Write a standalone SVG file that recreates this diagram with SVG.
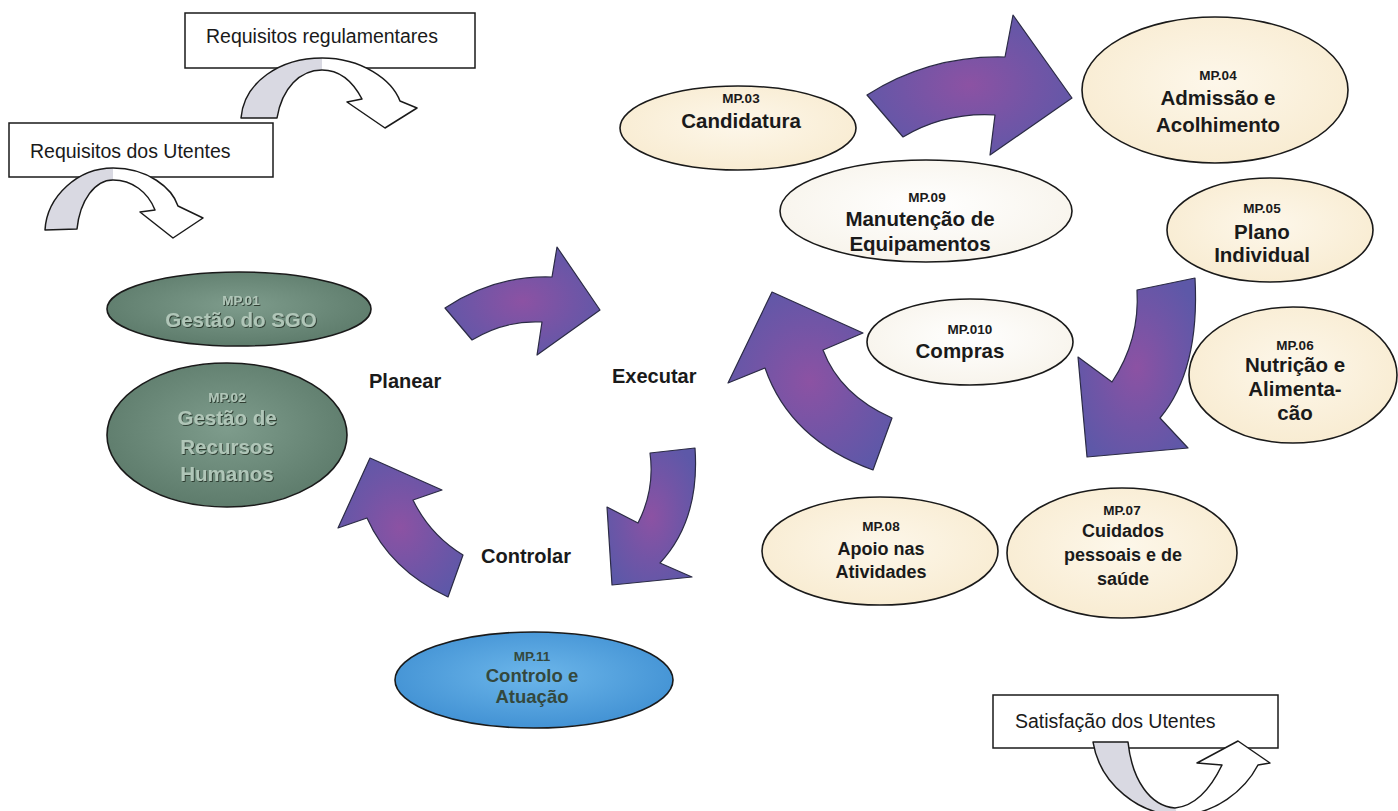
<svg xmlns="http://www.w3.org/2000/svg" width="1398" height="811" viewBox="0 0 1398 811">
<defs>
<radialGradient id="pg" cx="50%" cy="50%" r="60%"><stop offset="0" stop-color="#8c52a3"/><stop offset="0.55" stop-color="#7155a6"/><stop offset="1" stop-color="#5d58a8"/></radialGradient>
<radialGradient id="gg" cx="50%" cy="45%" r="60%"><stop offset="0" stop-color="#7e9c8c"/><stop offset="1" stop-color="#5b7969"/></radialGradient>
<radialGradient id="bg" cx="50%" cy="45%" r="60%"><stop offset="0" stop-color="#6cb6ea"/><stop offset="1" stop-color="#3f8fd2"/></radialGradient>
<radialGradient id="cg" cx="50%" cy="45%" r="60%"><stop offset="0" stop-color="#fdf7ea"/><stop offset="1" stop-color="#f8ebd0"/></radialGradient>
<radialGradient id="wg" cx="50%" cy="45%" r="60%"><stop offset="0" stop-color="#ffffff"/><stop offset="1" stop-color="#f7f3ea"/></radialGradient>
<filter id="emb" x="-10%" y="-10%" width="120%" height="130%"><feDropShadow dx="0.9" dy="0.9" stdDeviation="0.3" flood-color="#263429"/></filter>
</defs>
<style>
text{font-family:"Liberation Sans",Arial,sans-serif;}
.box{fill:#fff;stroke:#1a1a1a;stroke-width:1.5;}
.bt{font-size:19.5px;fill:#1a1a1a;}
.ca{fill:#fff;stroke:none;}
.cg{fill:#d9d9e2;stroke:none;}
.co{fill:none;stroke:#1a1a1a;stroke-width:1.5;stroke-linejoin:round;}
.pa{fill:url(#pg);stroke:#2b2b45;stroke-width:1.2;stroke-linejoin:round;}
.el{stroke:#1a1a1a;stroke-width:1.6;}
.cream{fill:url(#cg);}
.white{fill:url(#wg);}
.green{fill:url(#gg);}
.blue{fill:url(#bg);}
.mp{font-size:13.5px;font-weight:bold;fill:#1a1a1a;text-anchor:middle;}
.nt{font-size:20.5px;font-weight:bold;fill:#1a1a1a;text-anchor:middle;}
.ns{font-size:18px;font-weight:bold;fill:#1a1a1a;text-anchor:middle;}
.gt{fill:#b0c6b8;filter:url(#emb);}
.btx{fill:#34483d;}
.bl{font-size:18.5px;}
.lab{font-size:20px;font-weight:bold;fill:#1a1a1a;}
</style>
<rect width="1398" height="811" fill="#fff"/>

<g id="req-regulamentares">
<rect class="box" x="185" y="13" width="290" height="55"/>
<text class="bt" x="206" y="43">Requisitos regulamentares</text>
<path class="ca" d="M241,118 C244,82 280,58 322,58 C362,58 392,80 400,101 L417,108 L385,128 L347,102 L362,99 C352,80 338,70 322,70 C300,70 282,88 277,118 Z"/>
<path class="cg" d="M241,118 C244,82 280,58 322,58 L322,70 C300,70 282,88 277,118 Z"/>
<path class="co" d="M241,118 C244,82 280,58 322,58 C362,58 392,80 400,101 L417,108 L385,128 L347,102 L362,99 C352,80 338,70 322,70 C300,70 282,88 277,118 Z"/>
</g>

<g id="req-utentes">
<rect class="box" x="9" y="123" width="264" height="54"/>
<text class="bt" x="30" y="158">Requisitos dos Utentes</text>
<path class="ca" d="M45,230 C47,196 78,168 113,168 C148,168 172,188 178,206 L203,218 L173,238 L140,212 L155,210 C148,192 132,180 113,180 C95,180 80,200 77,229 Z"/>
<path class="cg" d="M45,230 C47,196 78,168 113,168 L113,180 C95,180 80,200 77,229 Z"/>
<path class="co" d="M45,230 C47,196 78,168 113,168 C148,168 172,188 178,206 L203,218 L173,238 L140,212 L155,210 C148,192 132,180 113,180 C95,180 80,200 77,229 Z"/>
</g>

<g id="satisfacao">
<rect class="box" x="993" y="695" width="285" height="53"/>
<text class="bt" x="1015" y="728">Satisfação dos Utentes</text>
<path class="ca" d="M1093,742 C1100,785 1140,815 1178,815 C1215,815 1245,790 1258,765 L1270,763 L1238,741 L1197,763 L1222,765 C1210,790 1195,806 1175,808 C1150,806 1132,780 1128,742 Z"/>
<path class="cg" d="M1093,742 C1100,785 1140,815 1178,815 L1175,808 C1150,806 1132,780 1128,742 Z"/>
<path class="co" d="M1093,742 C1100,785 1140,815 1178,815 C1215,815 1245,790 1258,765 L1270,763 L1238,741 L1197,763 L1222,765 C1210,790 1195,806 1175,808 C1150,806 1132,780 1128,742 Z"/>
</g>

<g id="connectors">
<path class="pa" d="M867,95 Q930,55 1005,57 L1013,15 L1072,98 L990,155 L995,115 Q945,112 903,137 Z"/>
<path class="pa" d="M445,308 Q495,275 552,277 L557,247 L600,310 L537,355 L542,322 Q505,320 472,340 Z"/>
<path class="pa" d="M772,292 L863,333 L823,350 Q840,395 892,418 L873,470 Q790,440 765,368 L728,383 Z"/>
<path class="pa" d="M1137,290 L1195,278 Q1200,370 1160,418 L1188,448 L1087,457 L1078,357 L1112,382 Q1140,340 1137,290 Z"/>
<path class="pa" d="M650,453 L695,448 Q700,520 660,563 L692,577 L612,585 L607,507 L638,523 Q655,490 650,453 Z"/>
<path class="pa" d="M370,458 L442,490 L413,500 Q430,535 463,555 L448,597 Q390,570 367,518 L338,528 Z"/>
</g>

<g id="labels">
<text class="lab" x="369" y="388">Planear</text>
<text class="lab" x="612" y="383">Executar</text>
<text class="lab" x="481" y="563">Controlar</text>
</g>

<g id="mp01">
<ellipse class="el green" cx="239" cy="309" rx="132" ry="37"/>
<text class="mp gt" x="241" y="305">MP.01</text>
<text class="nt gt" x="241" y="327">Gestão do SGO</text>
</g>

<g id="mp02">
<ellipse class="el green" cx="227" cy="435" rx="120" ry="72"/>
<text class="mp gt" x="227" y="402">MP.02</text>
<text class="nt gt" x="227" y="425">Gestão de</text>
<text class="nt gt" x="227" y="454">Recursos</text>
<text class="nt gt" x="227" y="481">Humanos</text>
</g>

<g id="mp11">
<ellipse class="el blue" cx="534" cy="680" rx="139" ry="48"/>
<text class="mp btx" x="532" y="661">MP.11</text>
<text class="nt bl btx" x="532" y="682">Controlo e</text>
<text class="nt bl btx" x="532" y="703">Atuação</text>
</g>

<g id="mp03">
<ellipse class="el cream" cx="738" cy="128" rx="118" ry="42"/>
<text class="mp" x="741" y="103">MP.03</text>
<text class="nt" x="741" y="128">Candidatura</text>
</g>

<g id="mp09">
<ellipse class="el white" cx="926" cy="211" rx="146" ry="51"/>
<text class="mp" x="927" y="202">MP.09</text>
<text class="nt" x="920" y="226">Manutenção de</text>
<text class="nt" x="920" y="251">Equipamentos</text>
</g>

<g id="mp010">
<ellipse class="el white" cx="970" cy="342" rx="103" ry="43"/>
<text class="mp" x="970" y="334">MP.010</text>
<text class="nt" x="960" y="358">Compras</text>
</g>

<g id="mp04">
<ellipse class="el cream" cx="1215" cy="90" rx="133" ry="73"/>
<text class="mp" x="1218" y="80">MP.04</text>
<text class="nt" x="1218" y="105">Admissão e</text>
<text class="nt" x="1218" y="132">Acolhimento</text>
</g>

<g id="mp05">
<ellipse class="el cream" cx="1270" cy="230" rx="103" ry="52"/>
<text class="mp" x="1262" y="213">MP.05</text>
<text class="nt" x="1262" y="239">Plano</text>
<text class="nt" x="1262" y="262">Individual</text>
</g>

<g id="mp06">
<ellipse class="el cream" cx="1293" cy="375" rx="104" ry="68"/>
<text class="mp" x="1295" y="350">MP.06</text>
<text class="nt" x="1295" y="372">Nutrição e</text>
<text class="nt" x="1295" y="396">Alimenta-</text>
<text class="nt" x="1295" y="420">cão</text>
</g>

<g id="mp07">
<ellipse class="el cream" cx="1122" cy="553" rx="115" ry="65"/>
<text class="mp" x="1122" y="515">MP.07</text>
<text class="ns" x="1123" y="537">Cuidados</text>
<text class="ns" x="1123" y="561">pessoais e de</text>
<text class="ns" x="1123" y="585">saúde</text>
</g>

<g id="mp08">
<ellipse class="el cream" cx="880" cy="551" rx="118" ry="54"/>
<text class="mp" x="881" y="531">MP.08</text>
<text class="ns" x="881" y="555">Apoio nas</text>
<text class="ns" x="881" y="578">Atividades</text>
</g>
</svg>
